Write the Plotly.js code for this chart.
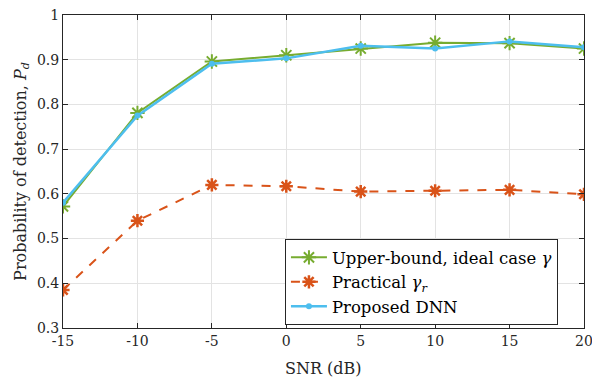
<!DOCTYPE html>
<html>
<head>
<meta charset="utf-8">
<script src="https://cdn.plot.ly/plotly-3.0.1.min.js"></script>
<style>html,body{margin:0;padding:0;background:#fff;}#chart{width:592px;height:379px;}</style>
</head>
<body>
<div id="chart"></div>
<script>
const snr = [-15, -10, -5, 0, 5, 10, 15, 20];
const upperBound = [0.572, 0.781, 0.896, 0.910, 0.925, 0.938, 0.937, 0.925];
const practical = [0.385, 0.540, 0.620, 0.617, 0.605, 0.607, 0.609, 0.599];
const proposedDNN = [0.580, 0.775, 0.891, 0.903, 0.931, 0.925, 0.941, 0.928];
const xTicks = [-15, -10, -5, 0, 5, 10, 15, 20];
const yTicks = [0.3, 0.4, 0.5, 0.6, 0.7, 0.8, 0.9, 1];

const FONT = 'DejaVu Serif';
const traces = [
  {x: snr, y: upperBound, mode: 'lines+markers', name: 'Upper-bound, ideal case <i>γ</i>',
   line: {color: '#77AC30', width: 2},
   marker: {symbol: 'asterisk-open', size: 12, line: {color: '#77AC30', width: 2}, color: '#77AC30'}},
  {x: snr, y: practical, mode: 'lines+markers', name: 'Practical <i>γ</i><sub><i>r</i></sub>',
   line: {color: '#D95319', width: 2, dash: 'dash'},
   marker: {symbol: 'asterisk-open', size: 11, line: {color: '#D95319', width: 2.5}, color: '#D95319'}},
  {x: snr, y: proposedDNN, mode: 'lines+markers', name: 'Proposed DNN',
   line: {color: '#4DBEEE', width: 2.5},
   marker: {symbol: 'circle', size: 6, color: '#4DBEEE'}}
];
const axisCommon = {
  showline: true, linecolor: '#262626', linewidth: 1, mirror: 'ticks',
  ticks: 'inside', ticklen: 5, tickcolor: '#262626',
  showgrid: true, gridcolor: '#e3e3e3', gridwidth: 1, zeroline: false,
  tickfont: {family: FONT, size: 14, color: '#262626'},
  ticklabeloverflow: 'allow', automargin: false
};
const layout = {
  width: 592, height: 379,
  margin: {l: 63, r: 8, t: 15, b: 51},
  paper_bgcolor: '#fff', plot_bgcolor: '#fff',
  font: {family: FONT, color: '#262626'},
  xaxis: Object.assign({}, axisCommon, {
    range: [-15, 20], tickvals: xTicks, ticktext: xTicks.map(String),
    title: {text: '', font: {family: FONT, size: 16, color: '#262626'}}
  }),
  yaxis: Object.assign({}, axisCommon, {
    range: [0.3, 1], tickvals: yTicks, ticktext: yTicks.map(v => v === 1 ? '1' : v.toFixed(1)),
    title: {text: 'Probability of detection, <i>P</i><sub><i>d</i></sub>', font: {family: FONT, size: 16, color: '#262626'}, standoff: 6}
  }),
  annotations: [{
    text: 'SNR (dB)', xref: 'paper', yref: 'paper', x: 0.5, y: 0, yshift: -40,
    xanchor: 'center', yanchor: 'middle', showarrow: false,
    font: {family: FONT, size: 16, color: '#262626'}
  }],
  showlegend: true,
  legend: {x: 0.426, y: 0.284, xanchor: 'left', yanchor: 'top',
    bgcolor: '#fff', bordercolor: '#262626', borderwidth: 1,
    font: {family: FONT, size: 16.5, color: '#000'}, tracegroupgap: 0, itemwidth: 36}
};
Plotly.newPlot('chart', traces, layout, {displayModeBar: false, staticPlot: true});
</script>
</body>
</html>
